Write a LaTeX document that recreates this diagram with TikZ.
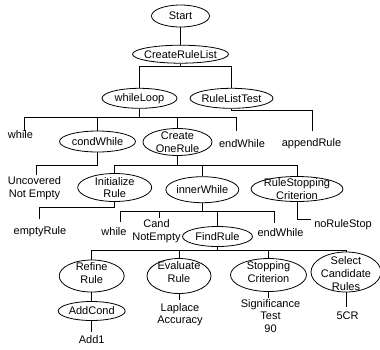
\documentclass[tikz,border=0pt]{standalone}
\usepackage{fontspec}
\setmainfont{Liberation Sans}
\usetikzlibrary{shapes.geometric}
\begin{document}
\begin{tikzpicture}[x=1pt,y=-1pt,
  ell/.style args={#1/#2}{ellipse, draw, fill=white, line width=0.8pt, inner sep=0pt, minimum width=#1pt, minimum height=#2pt},
  txt/.style={align=center, inner sep=0pt, font=\fontsize{11}{12.6}\selectfont},
  conn/.style={line width=0.8pt}]
\useasboundingbox (0,0) rectangle (380,349);
% nodes
\node[ell=58/22, label={[txt]center:Start}] (start) at (180.5,16) {};
\node[ell=96/18, label={[txt]center:CreateRuleList}] (crl) at (180.5,54.2) {};
\node[ell=75/20, label={[txt]center:whileLoop}] (wl) at (139.5,98.3) {};
\node[ell=83/20, label={[txt]center:RuleListTest}] (rlt) at (231.5,98.3) {};
\node[txt] (w1) at (20.5,135) {while};
\node[ell=76/21, label={[txt]center:condWhile}] (cw) at (97.5,141.5) {};
\node[ell=69/27, label={[txt]center:Create\\OneRule}] (cor) at (177.5,142) {};
\node[txt] (ew1) at (242,143.3) {endWhile};
\node[txt] (apr) at (311.5,143.3) {appendRule};
\node[txt] (unc) at (34.5,188) {Uncovered\\Not Empty};
\node[ell=74/28, label={[txt]center:Initialize\\Rule}] (ir) at (114.7,187.5) {};
\node[ell=73/26, label={[txt]center:innerWhile}] (iw) at (202.3,189.7) {};
\node[ell=92/25, label={[txt]center:RuleStopping\\Criterion}] (rsc) at (297,189) {};
\node[txt] (er) at (40,231.5) {emptyRule};
\node[txt] (w2) at (114,231.5) {while};
\node[txt] (cne) at (156.5,231) {Cand\\NotEmpty};
\node[ell=70/20, label={[txt]center:FindRule}] (fr) at (217.5,236.5) {};
\node[txt] (ew2) at (280.5,233) {endWhile};
\node[txt] (nrs) at (343,224.5) {noRuleStop};
\node[ell=65/32, label={[txt,yshift=3pt]center:Refine\\Rule}] (rr) at (91.7,276) {};
\node[ell=64/35, label={[txt,yshift=4pt]center:Evaluate\\Rule}] (evr) at (179,276) {};
\node[ell=76/33, label={[txt,yshift=3pt]center:Stopping\\Criterion}] (sc) at (268.5,275) {};
\node[ell=70/40, label={[txt,yshift=-1.5pt]center:Select\\Candidate\\Rules}] (scr) at (346,272) {};
\node[ell=67/19, label={[txt]center:AddCond}] (ac) at (91.7,311) {};
\node[txt] (a1) at (91.7,340) {Add1};
\node[txt] (la) at (180,314.5) {Laplace\\Accuracy};
\node[txt] (sig) at (270.5,316) {Significance\\Test\\90};
\node[txt] (cr5) at (347.5,316) {5CR};
% bend and end points
\coordinate (bus0) at (180.5,66);
\coordinate (bus1) at (139.5,117.3);
\coordinate (w1t) at (24,130.7);
\coordinate (ew1t) at (236,130.7);
\coordinate (elbrlt) at (231.5,110.7);
\coordinate (aprt) at (312,130.7);
\coordinate (buscw) at (97.5,165);
\coordinate (unct) at (36,175);
\coordinate (bus2) at (177.5,165);
\coordinate (busir) at (114.7,207.7);
\coordinate (ert) at (39.3,219);
\coordinate (bus3) at (202.3,211);
\coordinate (w2t) at (120,222.3);
\coordinate (cnet) at (159.3,218.3);
\coordinate (ew2t) at (274,223.3);
\coordinate (nrse) at (310.7,219);
\coordinate (bus4) at (217.5,250.5);
\coordinate (a1t) at (91.7,331.7);
\coordinate (lat) at (179,300);
\coordinate (sigt) at (268.5,298.3);
\coordinate (cr5t) at (346,306.7);
% connectors
\draw[conn] (start) -- (crl);
\draw[conn] (crl.south) -- (bus0) -| (wl.north);
\draw[conn] (bus0) -| (rlt.north);
\draw[conn] (wl.south) -- (bus1) -| (w1t);
\draw[conn] (bus1) -| (cw.north);
\draw[conn] (bus1) -| (cor.north);
\draw[conn] (bus1) -| (ew1t);
\draw[conn] (rlt.south) -- (elbrlt) -| (aprt);
\draw[conn] (cw.south) -- (buscw) -| (unct);
\draw[conn] (cor.south) -- (bus2) -| (ir.north);
\draw[conn] (bus2) -| (iw.north);
\draw[conn] (bus2) -| (rsc.north);
\draw[conn] (ir.south) -- (busir) -| (ert);
\draw[conn] (iw.south) -- (bus3) -| (w2t);
\draw[conn] (bus3) -| (cnet);
\draw[conn] (bus3) -| (fr.north);
\draw[conn] (bus3) -| (ew2t);
\draw[conn] (rsc.south) |- (nrse);
\draw[conn] (fr.south) -- (bus4) -| (rr.north);
\draw[conn] (bus4) -| (evr.north);
\draw[conn] (bus4) -| (sc.north);
\draw[conn] (bus4) -| (scr.north);
\draw[conn] (rr) -- (ac);
\draw[conn] (ac.south) -- (a1t);
\draw[conn] (evr.south) -- (lat);
\draw[conn] (sc.south) -- (sigt);
\draw[conn] (scr.south) -- (cr5t);
\end{tikzpicture}
\end{document}
